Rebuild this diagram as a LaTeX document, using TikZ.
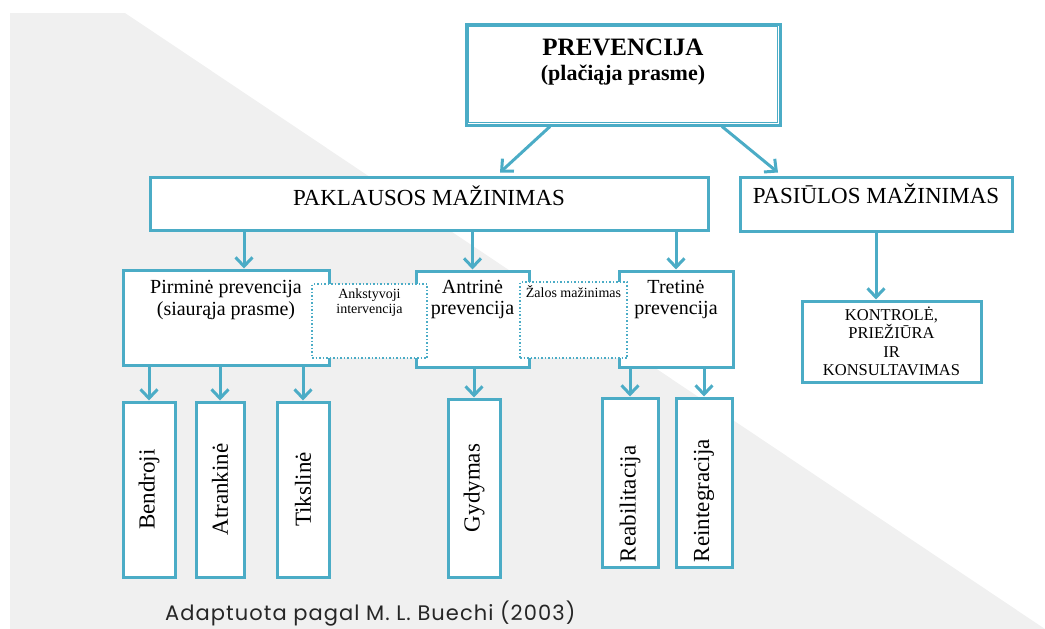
\documentclass[tikz,border=0pt]{standalone}
\usepackage{fontspec}
\setmainfont{Liberation Serif}
\newfontfamily\capfont[LetterSpace=5]{Poppins}
\usetikzlibrary{arrows.meta}
\definecolor{aqua}{RGB}{75,172,198}
\newcommand{\setfs}[2]{\fontsize{#1}{#2}\selectfont}

\begin{document}
\begin{tikzpicture}[
        x=1pt, y=-1pt,
        >={Straight Barb[length=9pt,width=17pt]},
        box/.style={draw=aqua, line width=3pt, fill=white, inner sep=0pt},
        dotbox/.style={draw=aqua, line width=1.5pt, dotted, fill=white, inner sep=0pt},
        tallbox/.style={box, font=\setfs{23}{26}},
        link/.style={aqua, line width=3pt},
    ]
        \useasboundingbox (0,0) rectangle (1045,629);
        % Background
        \fill[black!6] (10,13) -- (125,13) -- (1045,629) -- (10,629) -- cycle;

        % Top level
        \node[box, minimum width=314pt, text height=31.5pt, text depth=69.5pt, font=\bfseries\setfs{25}{25}] (prev) at (623,74.5)
            {\begin{tabular}[t]{c}PREVENCIJA\\ \setfs{22}{25}(plačiąja prasme)\end{tabular}};
        \draw[aqua, line width=1pt] ([shift={(3.8pt,-3.8pt)}]prev.north west) rectangle ([shift={(-3.8pt,3.8pt)}]prev.south east);

        % Second level
        \node[box, minimum width=558pt, text height=28pt, text depth=25pt, font=\setfs{23}{27}] (pakl) at (429,203.5) {PAKLAUSOS MAŽINIMAS};
        \node[box, minimum width=272pt, text height=26.6pt, text depth=27.4pt, font=\setfs{23}{27}] (pasi) at (876,204) {PASIŪLOS MAŽINIMAS};
        \node[box, minimum width=179pt, minimum height=81pt, align=center, font=\setfs{16.5}{18.5}] (kont) at (891.5,341.5)
            {KONTROLĖ,\\PRIEŽIŪRA\\IR\\KONSULTAVIMAS};

        % Third level
        \node[box, minimum width=206pt, text height=23pt, text depth=72pt, font=\setfs{20}{22}] (pirm) at (226,317.5)
            {\begin{tabular}[t]{c}Pirminė prevencija\\(siaurąja prasme)\end{tabular}};
        \node[box, minimum width=113pt, text height=22pt, text depth=74pt, font=\setfs{20}{21}] (antr) at (472.5,319)
            {\begin{tabular}[t]{c}Antrinė\\prevencija\end{tabular}};
        \node[box, minimum width=114pt, text height=22pt, text depth=74pt, font=\setfs{20}{21}] (tret) at (676,319)
            {\begin{tabular}[t]{c}Tretinė\\prevencija\end{tabular}};
        % Dotted overlaps between them
        \node[dotbox, minimum width=115pt, text height=14pt, text depth=60pt, font=\setfs{14}{15}] (ankst) at (369.5,321)
            {\begin{tabular}[t]{c}Ankstyvoji\\intervencija\end{tabular}};
        \node[dotbox, minimum width=107pt, text height=15pt, text depth=61pt, font=\setfs{14}{15}] (zal) at (573.5,320) {Žalos mažinimas};

        % Bottom level
        \node[tallbox, minimum width=52pt, minimum height=175pt] (bend) at (149,489.5) {\rotatebox{90}{Bendroji}};
        \node[tallbox, minimum width=48pt, minimum height=175pt] (atra) at (220,489.5) {\rotatebox{90}{Atrankinė}};
        \node[tallbox, minimum width=52pt, minimum height=175pt] (tiks) at (303,489.5) {\rotatebox{90}{Tikslinė}};
        \node[tallbox, minimum width=52pt, minimum height=178pt] (gyd) at (474,488) {\rotatebox{90}{Gydymas}};
        \node[tallbox, minimum width=56pt, minimum height=169pt] (reab) at (630,482.5) {\rotatebox{90}{\makebox[159pt][l]{Reabilitacija}}};
        \node[tallbox, minimum width=56pt, minimum height=169pt] (rein) at (704,482.5) {\rotatebox{90}{\makebox[159pt][l]{Reintegracija}}};

        % Source
        \node[anchor=base west, inner sep=0pt, text=black!85, font=\capfont\setfs{21}{24}] (src) at (165,620) {Adaptuota pagal M. L. Buechi (2003)};

        % Connectors
        \draw[link, ->] ([xshift=-73pt]prev.south) -- ([xshift=71pt,yshift=3pt]pakl.north);
        \draw[link, ->] ([xshift=99pt]prev.south) -- ([xshift=-98pt,yshift=3pt]pasi.north);
        \draw[link, ->] ([xshift=-185pt]pakl.south) -- ([xshift=18pt]pirm.north);
        \draw[link, ->] (pakl.south -| antr.north) -- (antr.north);
        \draw[link, ->] (pakl.south -| tret.north) -- (tret.north);
        \draw[link, ->] (pasi.south) -- (pasi.south |- kont.north);
        \foreach \n in {bend,atra,tiks}
            \draw[link, ->] (pirm.south -| \n.north) -- (\n.north);
        \draw[link, ->] (antr.south -| gyd.north) -- (gyd.north);
        \foreach \n in {reab,rein}
            \draw[link, ->] (tret.south -| \n.north) -- (\n.north);
    \end{tikzpicture}
\end{document}
